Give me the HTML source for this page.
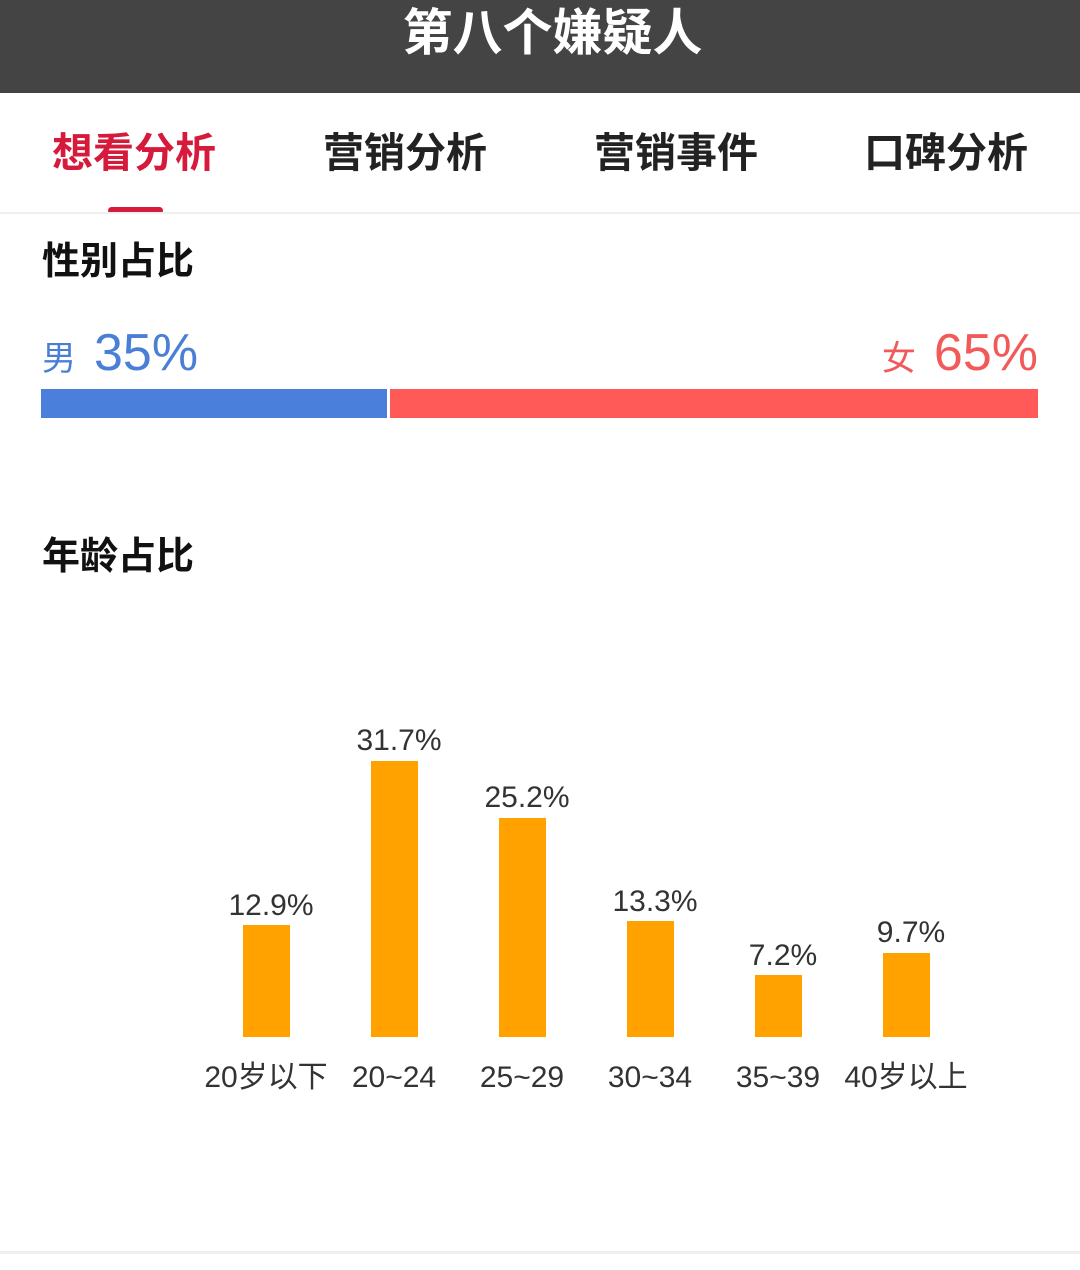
<!DOCTYPE html>
<html><head><meta charset="utf-8"><style>
*{margin:0;padding:0;box-sizing:border-box}
body{width:1080px;height:1270px;background:#fff;position:relative;overflow:hidden;font-family:"Liberation Sans","Noto Sans CJK SC",sans-serif}
.a{position:absolute;white-space:nowrap}
.hdr{left:0;top:0;width:1080px;height:93px;background:#444}
.t{color:#fff;font-size:50px;font-weight:bold;left:0;width:1080px;text-align:center;top:3px;line-height:60px;padding-left:25px}
.tab{font-size:41px;font-weight:bold;top:127px;line-height:52px;color:#222}
.sec{font-size:38px;font-weight:bold;color:#111;left:42px;line-height:46px}
.bar{background:#ffa200;width:47px}
.v{font-size:30px;color:#333;width:140px;text-align:center;line-height:32px}
.c{font-size:30px;color:#333;width:160px;text-align:center;line-height:34px}
</style></head><body>
<div class="a hdr"></div>
<div class="a t">第八个嫌疑人</div>
<div class="a tab" style="left:52px;color:#d61a3c">想看分析</div>
<div class="a tab" style="left:323px">营销分析</div>
<div class="a tab" style="left:594px">营销事件</div>
<div class="a tab" style="left:864px">口碑分析</div>
<div class="a" style="left:108px;top:207px;width:55px;height:7px;border-radius:4px;background:#d61a3c"></div>
<div class="a" style="left:0;top:212px;width:1080px;height:2px;background:#f0f0f0"></div>
<div class="a sec" style="top:239px">性别占比</div>
<div class="a" style="left:42px;top:324px;color:#4a7fd6;line-height:58px"><span style="font-size:34px">男</span><span style="font-size:52px;margin-left:18px">35%</span></div>
<div class="a" style="right:42px;top:324px;color:#f25a5a;line-height:58px"><span style="font-size:34px">女</span><span style="font-size:52px;margin-left:18px">65%</span></div>
<div class="a" style="left:41px;top:389px;width:346px;height:29px;background:#4a7fdc"></div>
<div class="a" style="left:390px;top:389px;width:648px;height:29px;background:#ff5a57"></div>
<div class="a sec" style="top:534px">年龄占比</div>

<div class="a bar" style="left:243px;top:925px;height:112px"></div>
<div class="a bar" style="left:371px;top:761px;height:276px"></div>
<div class="a bar" style="left:499px;top:818px;height:219px"></div>
<div class="a bar" style="left:627px;top:921px;height:116px"></div>
<div class="a bar" style="left:755px;top:975px;height:62px"></div>
<div class="a bar" style="left:883px;top:953px;height:84px"></div>

<div class="a v" style="left:201px;top:890px">12.9%</div>
<div class="a v" style="left:329px;top:725px">31.7%</div>
<div class="a v" style="left:457px;top:782px">25.2%</div>
<div class="a v" style="left:585px;top:886px">13.3%</div>
<div class="a v" style="left:713px;top:940px">7.2%</div>
<div class="a v" style="left:841px;top:917px">9.7%</div>

<div class="a c" style="left:186px;top:1061px">20岁以下</div>
<div class="a c" style="left:314px;top:1061px">20~24</div>
<div class="a c" style="left:442px;top:1061px">25~29</div>
<div class="a c" style="left:570px;top:1061px">30~34</div>
<div class="a c" style="left:698px;top:1061px">35~39</div>
<div class="a c" style="left:826px;top:1061px">40岁以上</div>
<div class="a" style="left:0;top:1251px;width:1080px;height:3px;background:#f0f0f0"></div>
</body></html>
